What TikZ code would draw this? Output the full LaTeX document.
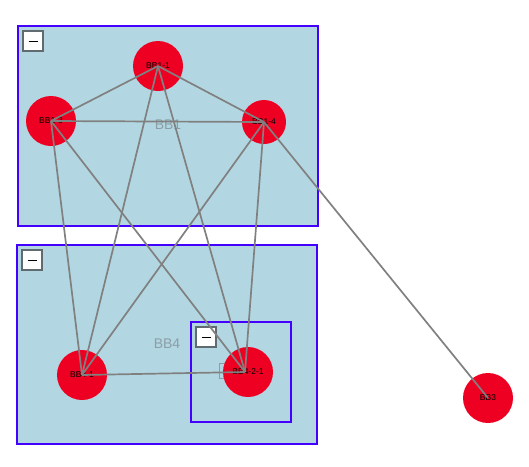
\documentclass[tikz,border=0pt]{standalone}
\usepackage{fontspec}
\setmainfont{Liberation Sans}
\definecolor{grpfill}{HTML}{B3D7E2}
\definecolor{grpline}{HTML}{4400FF}
\definecolor{nodered}{HTML}{EE0022}
\definecolor{edgegray}{HTML}{808080}
\definecolor{lblgray}{HTML}{8A9EA6}
\definecolor{btngray}{HTML}{5F6B6E}
\begin{document}
\begin{tikzpicture}[x=1pt,y=-1pt,
  grp/.style={draw=grpline,fill=grpfill,line width=1.6pt},
  grplabel/.style={text=lblgray,font=\fontsize{14}{16}\selectfont},
  btn/.style={draw=btngray,fill=white,line width=1.2pt,minimum width=20pt,minimum height=20pt,inner sep=0pt},
  vert/.style={circle,fill=nodered,inner sep=0pt,font=\fontsize{8.5}{10}\selectfont,text=black},
  edge/.style={draw=edgegray,line width=1.7pt}]
\useasboundingbox (0,0) rectangle (529,466);
% groups
\draw[grp] (18,26) rectangle (318,226);
\node[grplabel] (lbb1) at (168,125) {BB1};
\draw[grp] (17,245) rectangle (317,444);
\node[grplabel] (lbb4) at (167,344) {BB4};
\draw[grp] (191,322) rectangle (291,422);
\draw[draw=lblgray,line width=1pt] (219.5,363) rectangle (240,378);
% buttons
\foreach \n/\x/\y in {b1/33/41,b2/32/260,b3/206/337}{
  \node[btn] (\n) at (\x,\y) {};
  \draw[line width=0.9pt] ([xshift=-4.5pt]\n.center) -- ([xshift=4.5pt]\n.center);
}
% vertices
\node[vert,minimum size=50pt] (n11) at (158,66) {BB1-1};
\node[vert,minimum size=50pt] (n13) at (51,121) {BB1-3};
\node[vert,minimum size=44pt] (n14) at (264,122) {BB1-4};
\node[vert,minimum size=50pt] (n41) at (82,375) {BB4-1};
\node[vert,minimum size=50pt] (n421) at (248,372) {BB4-2-1};
\node[vert,minimum size=50pt] (n3) at (488,398) {BB3};
% edges
\draw[edge] (n11.center) -- (n13.center);
\draw[edge] (n11.center) -- (n14.center);
\draw[edge] (n13.center) -- (n14.center);
\draw[edge] (n11.center) -- (n41.center);
\draw[edge] (n11.center) -- ([xshift=-3pt]n421.center);
\draw[edge] (n13.center) -- (n41.center);
\draw[edge] (n13.center) -- ([xshift=-3pt]n421.center);
\draw[edge] (n14.center) -- (n41.center);
\draw[edge] (n14.center) -- ([xshift=-3pt]n421.center);
\draw[edge] (n14.center) -- (n3.center);
\draw[edge] (n41.center) -- ([xshift=-3pt]n421.center);
\end{tikzpicture}
\end{document}
